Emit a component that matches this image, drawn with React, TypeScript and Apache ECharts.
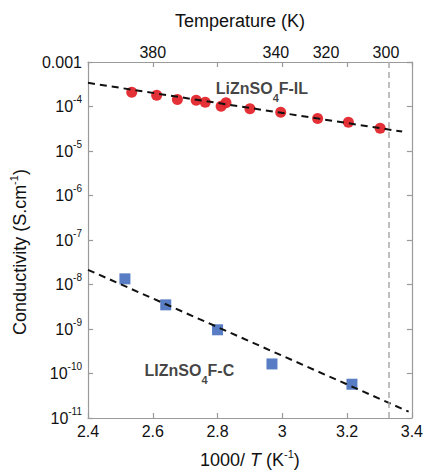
import React, { useEffect, useRef } from 'react';
import * as echarts from 'echarts';

// 1000/T values (K^-1) and conductivities (S/cm)
const ilX = [2.535, 2.612, 2.676, 2.734, 2.762, 2.811, 2.826, 2.9, 2.995, 3.109, 3.204, 3.302];
const ilY = [2.09e-4, 1.79e-4, 1.43e-4, 1.38e-4, 1.24e-4, 1.01e-4, 1.21e-4, 8.85e-5, 7.41e-5, 5.36e-5, 4.42e-5, 3.24e-5];
const cX = [2.514, 2.64, 2.8, 2.968, 3.215];
const cY = [1.34e-8, 3.49e-9, 9.6e-10, 1.64e-10, 5.74e-11];
const ilFitX = [2.4, 3.37];
const ilFitY = [3.4e-4, 2.73e-5];
const cFitX = [2.4, 3.39];
const cFitY = [2.14e-8, 1.39e-11];
const roomTempK = 300;
const topTempLabels = ['380', '340', '320', '300'];
const topTempLabelPos = [2.6, 2.98, 3.135, 3.32];
const ilLabelAt = [2.937, 2.54e-4];
const cLabelAt = [2.713, 1.14e-10];

const FONT = 'Liberation Sans, Arial, Helvetica, sans-serif';
const AXIS_COLOR = '#9a9a9a';

const zip = (xs: number[], ys: number[]) => xs.map((x, i) => [x, ys[i]]);

export default function App() {
  const ref = useRef<HTMLDivElement>(null);
  useEffect(() => {
    if (!ref.current) return;
    const chart = echarts.init(ref.current, null, { renderer: 'svg' });
    const axisCommon = {
      axisLine: { show: true, lineStyle: { color: AXIS_COLOR, width: 1.2 } },
      axisTick: { show: true, inside: true, length: 5, lineStyle: { color: AXIS_COLOR, width: 1.2 } },
      splitLine: { show: false },
      minorTick: { show: false },
    };
    const labelRich = {
      b: { fontSize: 16, fontFamily: FONT, color: '#111', lineHeight: 24 },
      s: { fontSize: 10, fontFamily: FONT, color: '#111', verticalAlign: 'top' },
    };
    const option: any = {
      animation: false,
      grid: { left: 87, right: 13, top: 62, bottom: 58 },
      xAxis: [
        {
          type: 'value',
          min: 2.4,
          max: 3.4,
          interval: 0.2,
          position: 'bottom',
          ...axisCommon,
          axisLabel: { fontSize: 16, fontFamily: FONT, color: '#111', margin: 5 },
          name: '{a|1000/ }{i|T}{a| (K}{s|-1}{a|)}',
          nameLocation: 'middle',
          nameGap: 30,
          nameTextStyle: {
            rich: {
              a: { fontSize: 18, fontFamily: FONT, color: '#111', lineHeight: 24 },
              i: { fontSize: 18, fontFamily: FONT, color: '#111', fontStyle: 'italic', lineHeight: 24 },
              s: { fontSize: 11, fontFamily: FONT, color: '#111', verticalAlign: 'top' },
            },
          },
        },
        {
          type: 'value',
          min: 2.4,
          max: 3.4,
          interval: 0.2,
          position: 'top',
          ...axisCommon,
          axisLabel: {
            fontSize: 16,
            fontFamily: FONT,
            color: '#111',
            margin: 2,
            customValues: topTempLabelPos,
            formatter: (v: number) => {
              let best = 0;
              topTempLabelPos.forEach((p, i) => {
                if (Math.abs(p - v) < Math.abs(topTempLabelPos[best] - v)) best = i;
              });
              return topTempLabels[best];
            },
          },
          name: 'Temperature (K)',
          nameLocation: 'middle',
          nameGap: 32,
          nameTextStyle: { fontSize: 18, fontFamily: FONT, color: '#111', padding: [0, 20, 0, 0] },
        },
      ],
      yAxis: [
        {
          type: 'log',
          min: 1e-11,
          max: 1e-3,
          logBase: 10,
          splitNumber: 8,
          position: 'left',
          ...axisCommon,
          axisLabel: {
            margin: 6,
            formatter: (v: number) => {
              const e = Math.round(Math.log10(v));
              if (e === -3) return '{b|0.001}';
              return `{b|10}{s|${e}}`;
            },
            rich: labelRich,
          },
          name: '{a|Conductivity (S.cm}{s|-1}{a|)}',
          nameLocation: 'middle',
          nameGap: 56,
          nameRotate: 90,
          nameTextStyle: {
            padding: [0, 24, 0, 0],
            rich: {
              a: { fontSize: 18, fontFamily: FONT, color: '#111', lineHeight: 24 },
              s: { fontSize: 11, fontFamily: FONT, color: '#111', verticalAlign: 'top' },
            },
          },
        },
        {
          type: 'log',
          min: 1e-11,
          max: 1e-3,
          logBase: 10,
          splitNumber: 8,
          position: 'right',
          ...axisCommon,
          axisLabel: { show: false },
        },
      ],
      series: [
        {
          name: 'LiZnSO4F-IL',
          type: 'scatter',
          data: zip(ilX, ilY),
          symbol: 'circle',
          symbolSize: 11,
          itemStyle: { color: '#e3262c', opacity: 0.95 },
          z: 2,
        },
        {
          name: 'LiZnSO4F-C',
          type: 'scatter',
          data: zip(cX, cY),
          symbol: 'rect',
          symbolSize: 11,
          itemStyle: { color: '#2f5db5' },
          z: 2,
        },
        {
          name: 'IL fit',
          type: 'line',
          data: zip(ilFitX, ilFitY),
          showSymbol: false,
          symbol: 'none',
          lineStyle: { color: '#111', width: 2, type: [7, 5] },
          z: 3,
          markLine: {
            silent: true,
            symbol: 'none',
            label: { show: false },
            lineStyle: { color: '#aaaaaa', width: 1.5, type: [6, 4] },
            data: [{ xAxis: 1000 / roomTempK }],
          },
        },
        {
          name: 'C fit',
          type: 'line',
          data: zip(cFitX, cFitY),
          showSymbol: false,
          symbol: 'none',
          lineStyle: { color: '#111', width: 2, type: [7, 5] },
          z: 3,
        },
        {
          name: 'labels',
          type: 'scatter',
          symbolSize: 0,
          z: 4,
          data: [
            { value: ilLabelAt, label: { formatter: '{t|LiZnSO}{u|4}{t|F-IL}' } },
            { value: cLabelAt, label: { formatter: '{t|LIZnSO}{u|4}{t|F-C}' } },
          ],
          label: {
            show: true,
            position: 'inside',
            rich: {
              t: { fontSize: 16, fontWeight: 'bold', fontFamily: FONT, color: '#111', lineHeight: 30 },
              u: { fontSize: 11, fontWeight: 'bold', fontFamily: FONT, color: '#111', verticalAlign: 'bottom' },
            },
          },
        },
      ],
    };
    chart.setOption(option);
    return () => chart.dispose();
  }, []);
  return (
    <div
      ref={ref}
      style={{ position: 'absolute', left: 0, top: 0, width: 426, height: 476, background: '#fff' }}
    />
  );
}
